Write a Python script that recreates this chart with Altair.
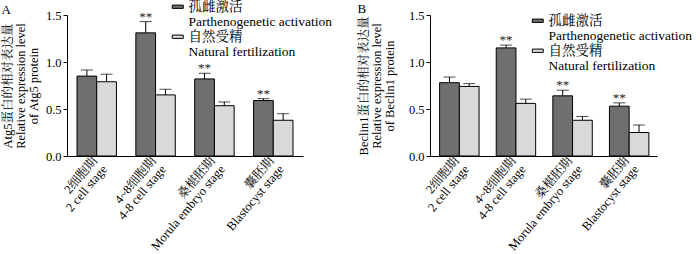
import altair as alt
import pandas as pd

FONT = "Liberation Serif, Noto Serif CJK SC, Noto Sans CJK SC"

stages = ["2细胞期|2 cell stage", "4~8细胞期|4-8 cell stage",
          "桑椹胚期|Morula embryo stage", "囊胚期|Blastocyst stage"]
groups = ["孤雌激活|Parthenogenetic activation", "自然受精|Natural fertilization"]

a_pa = [0.85, 1.31, 0.82, 0.59]
a_pa_err = [0.065, 0.12, 0.06, 0.02]
a_nf = [0.79, 0.65, 0.535, 0.38]
a_nf_err = [0.08, 0.06, 0.04, 0.07]

b_pa = [0.78, 1.15, 0.64, 0.53]
b_pa_err = [0.06, 0.03, 0.06, 0.035]
b_nf = [0.74, 0.56, 0.38, 0.25]
b_nf_err = [0.03, 0.045, 0.04, 0.08]

sig = ["", "**", "**", "**"]

ytitles_a = ["Atg5蛋白的相对表达量", "Relative expression level", "of Atg5 protein"]
ytitles_b = ["Beclin1蛋白的相对表达量", "Relative expression level", "of Beclin1 protein"]

# trailing no-break spaces (style only) so the two rotated label lines look centred
NB = "\u00a0"
LINE_PAD = {
    stages[0]: (NB * 2, ""),
    stages[1]: (NB * 2, NB * 2),
    stages[2]: (NB * 9, ""),
    stages[3]: (NB * 7, ""),
}


def label_expr():
    expr = "split(datum.label, '|')"
    for s in reversed(stages):
        zh, en = s.split("|")
        p1, p2 = LINE_PAD[s]
        expr = f"datum.value === '{s}' ? ['{zh}{p1}', '{en}{p2}'] : ({expr})"
    return expr


def frame(pa, pa_err, nf, nf_err):
    rows = []
    for i, s in enumerate(stages):
        rows.append(dict(stage=s, group=groups[0], value=pa[i], hi=pa[i] + pa_err[i], sig=sig[i]))
        rows.append(dict(stage=s, group=groups[1], value=nf[i], hi=nf[i] + nf_err[i], sig=""))
    return pd.DataFrame(rows)


def panel(df, letter, ytitle, width, lx, ly, tdy, tpad):
    xenc = alt.X("stage:N", sort=stages, title=None,
                 scale=alt.Scale(paddingInner=0.33, paddingOuter=0.17),
                 axis=alt.Axis(labelAngle=-50, labelAlign="right", labelBaseline="middle",
                               labelExpr=label_expr(), ticks=False,
                               labelOffset=-2, labelPadding=2,
                               labelFontSize=12.5, labelLineHeight=13, labelOverlap=False,
                               labelFont=FONT, labelColor="black", domainColor="black"))
    xoff = alt.XOffset("group:N", sort=groups,
                       scale=alt.Scale(paddingInner=0, paddingOuter=0))
    yscale = alt.Scale(domain=[0, 1.5], nice=False)
    base = alt.Chart(df)
    bars = base.mark_bar(stroke="black", strokeWidth=1).encode(
        x=xenc, xOffset=xoff,
        y=alt.Y("value:Q", scale=yscale, title=ytitle,
                axis=alt.Axis(values=[0, 0.5, 1.0, 1.5], format=".1f", grid=False,
                              tickSize=4, tickColor="black", domainColor="black",
                              labelFont=FONT, labelFontSize=12.5, labelColor="black",
                              labelPadding=2,
                              titleFont=FONT, titleFontSize=12.5, titleFontWeight="normal",
                              titleLineHeight=13, titlePadding=tpad, titleColor="black")),
        color=alt.Color("group:N", sort=groups,
                        scale=alt.Scale(domain=groups, range=["#6f6f6f", "#d9d9d9"]),
                        legend=alt.Legend(title=None, orient="none", legendX=lx, legendY=ly,
                                          labelExpr="split(datum.label, '|')",
                                          labelFont=FONT, labelFontSize=13.5,
                                          labelColor="black", labelBaseline="middle",
                                          symbolType="M-1,-0.3H1V0.3H-1Z", symbolSize=121,
                                          symbolStrokeColor="black", symbolStrokeWidth=1,
                                          labelOffset=4, rowPadding=0, padding=0,
                                          labelLimit=300)),
    )
    rule = base.mark_rule(color="black", strokeWidth=1).encode(
        x=xenc, xOffset=xoff, y=alt.Y("value:Q", scale=yscale), y2="hi:Q")
    cap = base.mark_tick(color="black", thickness=1, size=12).encode(
        x=xenc, xOffset=xoff, y=alt.Y("hi:Q", scale=yscale))
    stars = base.transform_filter("datum.sig != ''").mark_text(
        font=FONT, fontSize=13, baseline="alphabetic", dy=-1, color="#222").encode(
        x=xenc, xOffset=xoff, y=alt.Y("hi:Q", scale=yscale), text="sig:N")
    return alt.layer(rule, bars, cap, stars).properties(
        width=width, height=141,
        title=alt.TitleParams(letter, anchor="start", frame="bounds", font=FONT,
                              fontSize=13, fontWeight="normal", color="black",
                              offset=0, dy=tdy))


dfa = frame(a_pa, a_pa_err, a_nf, a_nf_err)
dfb = frame(b_pa, b_pa_err, b_nf, b_nf_err)

chart = alt.hconcat(
    panel(dfa, "A", ytitles_a, 236, 104, -15, 17, 5),
    panel(dfb, "B", ytitles_b, 227, 101, -1, 7, 12),
    spacing=127, bounds="flush",
).resolve_scale(color="independent").resolve_legend(color="independent").properties(
    padding={"left": 1, "top": 0, "right": 1, "bottom": 0}
).configure_view(stroke=None)

chart.save("out.html", embed_options={"renderer": "svg", "actions": False})
